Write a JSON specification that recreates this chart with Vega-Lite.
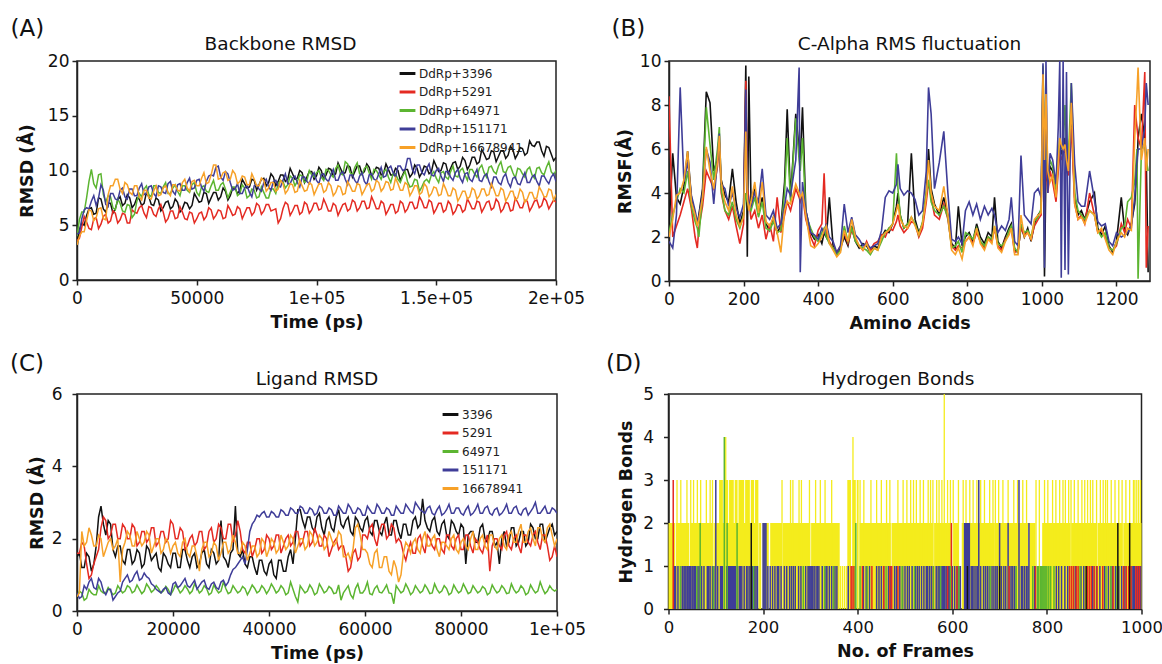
{
"$schema": "https://vega.github.io/schema/vega-lite/v6.json",
"background": "white",
"padding": {"left": 9, "top": 17, "right": 0, "bottom": 0},
"config": {
 "font": "DejaVu Sans",
 "view": {"stroke": "#222222", "strokeWidth": 1.5},
 "axis": {"grid": false, "domainColor": "#222222", "domainWidth": 1.5, "tickColor": "#222222", "tickWidth": 1.5, "tickSize": 5, "labelFontSize": 17, "labelColor": "#111111", "labelPadding": 3, "titleFontSize": 17.5, "titleFontWeight": "bold", "titleColor": "#111111", "labelFlush": false, "labelOverlap": false},
 "axisY": {"titlePadding": 5},
 "axisX": {"titlePadding": 7, "labelPadding": 5},
 "title": {"fontWeight": "normal", "color": "#111111"}
},
"datasets": {
"rmsdA": [
{"t":0,"3396":3.0,"5291":3.6,"64971":4.0,"151171":4.2,"16678941":3.2},
{"t":2000,"3396":5.2,"5291":4.8,"64971":6.2,"151171":5.6,"16678941":4.4},
{"t":4000,"3396":5.9,"5291":5.3,"64971":7.5,"151171":6.6,"16678941":5.4},
{"t":6000,"3396":6.6,"5291":4.6,"64971":10.1,"151171":7.2,"16678941":6.3},
{"t":8000,"3396":6.1,"5291":5.7,"64971":8.4,"151171":6.8,"16678941":5.7},
{"t":10000,"3396":7.4,"5291":5.1,"64971":9.7,"151171":8.7,"16678941":6.6},
{"t":12000,"3396":6.2,"5291":6.0,"64971":7.1,"151171":6.9,"16678941":5.5},
{"t":14000,"3396":7.0,"5291":5.4,"64971":7.6,"151171":7.9,"16678941":8.6},
{"t":16000,"3396":6.5,"5291":6.1,"64971":6.4,"151171":7.4,"16678941":9.2},
{"t":18000,"3396":7.6,"5291":5.5,"64971":7.0,"151171":8.2,"16678941":8.3},
{"t":20000,"3396":7.0,"5291":6.0,"64971":6.2,"151171":7.6,"16678941":8.9},
{"t":22000,"3396":7.5,"5291":5.2,"64971":6.8,"151171":8.3,"16678941":8.0},
{"t":24000,"3396":6.9,"5291":6.2,"64971":6.0,"151171":7.7,"16678941":8.6},
{"t":26000,"3396":7.4,"5291":6.6,"64971":7.9,"151171":8.4,"16678941":7.6},
{"t":28000,"3396":7.0,"5291":6.1,"64971":8.3,"151171":7.8,"16678941":8.2},
{"t":30000,"3396":7.6,"5291":6.7,"64971":7.8,"151171":8.5,"16678941":7.5},
{"t":32000,"3396":6.8,"5291":6.0,"64971":8.6,"151171":7.9,"16678941":8.1},
{"t":34000,"3396":7.3,"5291":6.5,"64971":8.0,"151171":8.6,"16678941":7.7},
{"t":36000,"3396":6.6,"5291":6.2,"64971":8.5,"151171":8.0,"16678941":8.4},
{"t":38000,"3396":7.2,"5291":5.6,"64971":7.9,"151171":8.8,"16678941":8.0},
{"t":40000,"3396":6.7,"5291":6.3,"64971":8.4,"151171":8.1,"16678941":8.7},
{"t":42000,"3396":7.1,"5291":5.7,"64971":8.1,"151171":8.7,"16678941":8.2},
{"t":44000,"3396":6.5,"5291":6.2,"64971":8.6,"151171":8.2,"16678941":8.9},
{"t":46000,"3396":7.0,"5291":5.5,"64971":8.2,"151171":8.9,"16678941":8.4},
{"t":48000,"3396":6.8,"5291":6.1,"64971":8.7,"151171":8.3,"16678941":9.0},
{"t":50000,"3396":7.5,"5291":5.6,"64971":8.0,"151171":9.1,"16678941":8.6},
{"t":52000,"3396":7.2,"5291":6.2,"64971":8.5,"151171":8.5,"16678941":9.3},
{"t":54000,"3396":7.9,"5291":5.8,"64971":8.1,"151171":9.0,"16678941":8.8},
{"t":56000,"3396":7.5,"5291":6.4,"64971":8.6,"151171":9.6,"16678941":9.6},
{"t":58000,"3396":8.0,"5291":5.9,"64971":8.2,"151171":10.3,"16678941":10.5},
{"t":60000,"3396":7.6,"5291":6.3,"64971":8.7,"151171":9.4,"16678941":9.3},
{"t":62000,"3396":8.1,"5291":5.7,"64971":8.3,"151171":9.9,"16678941":9.9},
{"t":64000,"3396":7.7,"5291":6.4,"64971":8.0,"151171":8.9,"16678941":9.2},
{"t":66000,"3396":8.4,"5291":6.0,"64971":8.5,"151171":8.3,"16678941":9.7},
{"t":68000,"3396":8.2,"5291":6.5,"64971":7.9,"151171":7.9,"16678941":9.0},
{"t":70000,"3396":8.8,"5291":6.1,"64971":8.4,"151171":8.4,"16678941":9.4},
{"t":72000,"3396":8.5,"5291":6.6,"64971":7.7,"151171":8.0,"16678941":8.7},
{"t":74000,"3396":9.1,"5291":6.2,"64971":8.2,"151171":8.6,"16678941":9.2},
{"t":76000,"3396":8.7,"5291":6.8,"64971":7.6,"151171":8.3,"16678941":8.6},
{"t":78000,"3396":9.3,"5291":6.3,"64971":8.0,"151171":8.9,"16678941":9.1},
{"t":80000,"3396":8.9,"5291":6.9,"64971":7.5,"151171":8.5,"16678941":8.4},
{"t":82000,"3396":9.4,"5291":6.4,"64971":8.3,"151171":9.0,"16678941":8.9},
{"t":84000,"3396":9.0,"5291":5.2,"64971":8.8,"151171":8.6,"16678941":8.3},
{"t":86000,"3396":9.6,"5291":6.5,"64971":9.0,"151171":9.1,"16678941":8.8},
{"t":88000,"3396":9.2,"5291":6.9,"64971":8.7,"151171":8.8,"16678941":8.2},
{"t":90000,"3396":9.7,"5291":6.3,"64971":9.3,"151171":9.3,"16678941":8.7},
{"t":92000,"3396":9.3,"5291":6.8,"64971":9.0,"151171":8.9,"16678941":8.1},
{"t":94000,"3396":9.8,"5291":6.2,"64971":9.5,"151171":9.4,"16678941":8.6},
{"t":96000,"3396":9.4,"5291":6.9,"64971":9.1,"151171":9.0,"16678941":8.2},
{"t":98000,"3396":9.9,"5291":6.4,"64971":9.6,"151171":9.5,"16678941":8.7},
{"t":100000,"3396":9.5,"5291":7.0,"64971":9.8,"151171":9.1,"16678941":8.3},
{"t":102000,"3396":10.0,"5291":6.5,"64971":9.4,"151171":9.6,"16678941":8.8},
{"t":104000,"3396":9.6,"5291":6.9,"64971":10.1,"151171":9.2,"16678941":8.2},
{"t":106000,"3396":10.1,"5291":6.3,"64971":9.6,"151171":9.6,"16678941":8.6},
{"t":108000,"3396":9.7,"5291":6.8,"64971":10.2,"151171":9.1,"16678941":8.0},
{"t":110000,"3396":10.2,"5291":6.4,"64971":9.7,"151171":9.7,"16678941":8.5},
{"t":112000,"3396":9.8,"5291":7.0,"64971":10.8,"151171":9.2,"16678941":7.9},
{"t":114000,"3396":10.3,"5291":6.5,"64971":9.8,"151171":9.6,"16678941":8.6},
{"t":116000,"3396":9.9,"5291":7.1,"64971":10.3,"151171":9.1,"16678941":8.1},
{"t":118000,"3396":10.4,"5291":6.6,"64971":9.7,"151171":9.5,"16678941":8.7},
{"t":120000,"3396":9.9,"5291":7.2,"64971":10.2,"151171":9.0,"16678941":8.2},
{"t":122000,"3396":10.3,"5291":6.6,"64971":9.8,"151171":9.6,"16678941":8.8},
{"t":124000,"3396":9.8,"5291":7.1,"64971":10.1,"151171":9.2,"16678941":8.3},
{"t":126000,"3396":10.2,"5291":6.5,"64971":9.6,"151171":9.7,"16678941":8.9},
{"t":128000,"3396":9.7,"5291":7.0,"64971":9.9,"151171":9.4,"16678941":8.4},
{"t":130000,"3396":10.1,"5291":6.4,"64971":9.4,"151171":10.2,"16678941":8.9},
{"t":132000,"3396":9.6,"5291":6.9,"64971":9.7,"151171":9.8,"16678941":8.3},
{"t":134000,"3396":10.0,"5291":6.3,"64971":9.2,"151171":10.4,"16678941":8.8},
{"t":136000,"3396":9.6,"5291":7.0,"64971":9.5,"151171":10.0,"16678941":8.2},
{"t":138000,"3396":10.1,"5291":6.5,"64971":9.0,"151171":11.1,"16678941":8.7},
{"t":140000,"3396":9.7,"5291":7.1,"64971":8.6,"151171":10.1,"16678941":8.1},
{"t":142000,"3396":10.2,"5291":6.6,"64971":9.1,"151171":10.5,"16678941":8.6},
{"t":144000,"3396":9.8,"5291":7.2,"64971":8.5,"151171":9.8,"16678941":8.0},
{"t":146000,"3396":10.3,"5291":6.6,"64971":9.2,"151171":10.2,"16678941":8.5},
{"t":148000,"3396":9.9,"5291":7.1,"64971":9.6,"151171":9.6,"16678941":7.9},
{"t":150000,"3396":10.4,"5291":6.5,"64971":9.3,"151171":10.0,"16678941":8.4},
{"t":152000,"3396":10.0,"5291":7.0,"64971":9.8,"151171":9.5,"16678941":7.8},
{"t":154000,"3396":10.6,"5291":6.4,"64971":9.4,"151171":9.9,"16678941":8.3},
{"t":156000,"3396":10.2,"5291":6.9,"64971":9.9,"151171":9.4,"16678941":7.7},
{"t":158000,"3396":10.8,"5291":6.3,"64971":9.5,"151171":9.8,"16678941":8.2},
{"t":160000,"3396":10.4,"5291":6.8,"64971":10.0,"151171":9.3,"16678941":7.6},
{"t":162000,"3396":10.9,"5291":6.4,"64971":9.6,"151171":9.7,"16678941":8.1},
{"t":164000,"3396":10.5,"5291":7.0,"64971":10.1,"151171":9.2,"16678941":7.6},
{"t":166000,"3396":11.2,"5291":6.5,"64971":9.7,"151171":9.6,"16678941":8.2},
{"t":168000,"3396":10.8,"5291":7.1,"64971":10.2,"151171":9.1,"16678941":7.7},
{"t":170000,"3396":11.5,"5291":6.6,"64971":9.8,"151171":9.5,"16678941":8.3},
{"t":172000,"3396":11.1,"5291":7.2,"64971":10.3,"151171":9.0,"16678941":7.8},
{"t":174000,"3396":11.7,"5291":6.6,"64971":9.9,"151171":9.4,"16678941":8.3},
{"t":176000,"3396":11.3,"5291":7.1,"64971":10.4,"151171":8.9,"16678941":7.7},
{"t":178000,"3396":11.8,"5291":6.5,"64971":9.9,"151171":9.4,"16678941":8.2},
{"t":180000,"3396":11.4,"5291":7.0,"64971":10.3,"151171":8.9,"16678941":7.6},
{"t":182000,"3396":11.9,"5291":6.4,"64971":9.8,"151171":9.3,"16678941":8.1},
{"t":184000,"3396":11.5,"5291":7.1,"64971":10.2,"151171":8.8,"16678941":7.5},
{"t":186000,"3396":12.0,"5291":6.6,"64971":9.7,"151171":9.3,"16678941":8.0},
{"t":188000,"3396":11.6,"5291":7.2,"64971":10.1,"151171":8.9,"16678941":7.4},
{"t":190000,"3396":12.3,"5291":6.7,"64971":9.6,"151171":9.4,"16678941":8.0},
{"t":192000,"3396":12.6,"5291":7.3,"64971":10.2,"151171":9.0,"16678941":7.5},
{"t":194000,"3396":11.8,"5291":6.8,"64971":9.8,"151171":9.5,"16678941":8.1},
{"t":196000,"3396":12.2,"5291":7.2,"64971":10.3,"151171":9.1,"16678941":7.6},
{"t":198000,"3396":11.5,"5291":6.9,"64971":9.9,"151171":9.4,"16678941":8.2},
{"t":200000,"3396":11.2,"5291":7.1,"64971":10.0,"151171":9.0,"16678941":7.8},
{"t":1000,"3396":4.6,"5291":3.8,"64971":5.5,"151171":4.3,"16678941":4.0},
{"t":3000,"3396":5.0,"5291":5.8,"64971":6.2,"151171":6.4,"16678941":4.4},
{"t":5000,"3396":6.5,"5291":4.7,"64971":9.0,"151171":6.5,"16678941":6.4},
{"t":7000,"3396":6.0,"5291":5.6,"64971":8.8,"151171":7.7,"16678941":5.4},
{"t":9000,"3396":7.5,"5291":4.7,"64971":9.6,"151171":7.5,"16678941":6.5},
{"t":11000,"3396":6.5,"5291":5.8,"64971":7.8,"151171":8.2,"16678941":5.6},
{"t":13000,"3396":7.0,"5291":5.2,"64971":7.7,"151171":6.7,"16678941":7.8},
{"t":15000,"3396":6.1,"5291":6.3,"64971":6.6,"151171":7.9,"16678941":8.6},
{"t":17000,"3396":7.3,"5291":5.2,"64971":7.4,"151171":7.3,"16678941":9.2},
{"t":19000,"3396":6.8,"5291":6.1,"64971":6.3,"151171":8.4,"16678941":7.9},
{"t":21000,"3396":7.8,"5291":5.2,"64971":6.9,"151171":7.4,"16678941":8.7},
{"t":23000,"3396":6.6,"5291":6.4,"64971":5.7,"151171":8.3,"16678941":7.8},
{"t":25000,"3396":7.5,"5291":6.1,"64971":7.2,"151171":7.7,"16678941":8.6},
{"t":27000,"3396":6.8,"5291":6.8,"64971":7.6,"151171":8.8,"16678941":7.3},
{"t":29000,"3396":8.0,"5291":5.7,"64971":8.6,"151171":7.9,"16678941":8.2},
{"t":31000,"3396":6.9,"5291":6.6,"64971":7.6,"151171":8.6,"16678941":7.4},
{"t":33000,"3396":7.5,"5291":5.8,"64971":8.6,"151171":7.6,"16678941":8.6},
{"t":35000,"3396":6.3,"5291":6.9,"64971":7.9,"151171":8.5,"16678941":7.8},
{"t":37000,"3396":7.1,"5291":5.3,"64971":8.9,"151171":7.9,"16678941":8.6},
{"t":39000,"3396":6.5,"5291":6.3,"64971":7.9,"151171":9.0,"16678941":7.7},
{"t":41000,"3396":7.4,"5291":5.6,"64971":8.7,"151171":7.8,"16678941":8.7},
{"t":43000,"3396":6.2,"5291":6.7,"64971":7.7,"151171":8.8,"16678941":8.1},
{"t":45000,"3396":7.1,"5291":5.6,"64971":8.6,"151171":8.2,"16678941":9.2},
{"t":47000,"3396":6.5,"5291":6.2,"64971":8.0,"151171":9.3,"16678941":8.1},
{"t":49000,"3396":7.9,"5291":5.2,"64971":8.9,"151171":8.4,"16678941":9.1},
{"t":51000,"3396":7.1,"5291":6.1,"64971":7.7,"151171":9.2,"16678941":8.6},
{"t":53000,"3396":8.0,"5291":5.5,"64971":8.6,"151171":8.1,"16678941":9.8},
{"t":55000,"3396":7.0,"5291":6.6,"64971":8.0,"151171":9.5,"16678941":8.9},
{"t":57000,"3396":8.0,"5291":5.6,"64971":9.1,"151171":9.5,"16678941":10.5},
{"t":59000,"3396":7.3,"5291":6.4,"64971":8.2,"151171":10.4,"16678941":9.2},
{"t":61000,"3396":8.4,"5291":5.6,"64971":8.9,"151171":9.1,"16678941":9.8},
{"t":63000,"3396":7.3,"5291":6.8,"64971":7.5,"151171":9.7,"16678941":9.1},
{"t":65000,"3396":8.4,"5291":5.9,"64971":8.5,"151171":8.2,"16678941":10.0},
{"t":67000,"3396":7.9,"5291":6.7,"64971":7.7,"151171":8.8,"16678941":8.8},
{"t":69000,"3396":9.2,"5291":5.6,"64971":8.7,"151171":7.9,"16678941":9.5},
{"t":71000,"3396":8.4,"5291":6.6,"64971":7.5,"151171":8.6,"16678941":8.7},
{"t":73000,"3396":9.2,"5291":5.9,"64971":8.3,"151171":7.6,"16678941":9.7},
{"t":75000,"3396":8.2,"5291":7.0,"64971":7.5,"151171":8.7,"16678941":8.6},
{"t":77000,"3396":9.2,"5291":6.0,"64971":8.5,"151171":8.1,"16678941":9.3},
{"t":79000,"3396":8.6,"5291":6.9,"64971":7.5,"151171":9.2,"16678941":8.1},
{"t":81000,"3396":9.7,"5291":6.3,"64971":8.3,"151171":8.2,"16678941":8.9},
{"t":83000,"3396":8.6,"5291":6.5,"64971":7.9,"151171":9.1,"16678941":8.1},
{"t":85000,"3396":9.6,"5291":5.6,"64971":9.1,"151171":8.5,"16678941":9.1},
{"t":87000,"3396":9.0,"5291":7.1,"64971":8.4,"151171":9.7,"16678941":7.9},
{"t":89000,"3396":10.2,"5291":5.9,"64971":9.5,"151171":8.8,"16678941":8.8},
{"t":91000,"3396":9.2,"5291":6.8,"64971":8.6,"151171":9.5,"16678941":8.0},
{"t":93000,"3396":10.0,"5291":6.0,"64971":9.6,"151171":8.5,"16678941":9.1},
{"t":95000,"3396":8.9,"5291":7.1,"64971":8.9,"151171":9.4,"16678941":8.1},
{"t":97000,"3396":9.9,"5291":6.1,"64971":10.0,"151171":8.8,"16678941":8.9},
{"t":99000,"3396":9.2,"5291":7.0,"64971":9.4,"151171":9.8,"16678941":7.8},
{"t":101000,"3396":10.3,"5291":6.4,"64971":10.0,"151171":8.8,"16678941":8.8},
{"t":103000,"3396":9.2,"5291":7.4,"64971":9.1,"151171":9.7,"16678941":8.0},
{"t":105000,"3396":10.2,"5291":6.3,"64971":10.0,"151171":9.0,"16678941":8.9},
{"t":107000,"3396":9.5,"5291":7.0,"64971":9.4,"151171":10.1,"16678941":7.7},
{"t":109000,"3396":10.7,"5291":5.9,"64971":10.5,"151171":9.1,"16678941":8.6},
{"t":111000,"3396":9.7,"5291":6.9,"64971":9.6,"151171":9.9,"16678941":7.8},
{"t":113000,"3396":10.5,"5291":6.3,"64971":10.6,"151171":8.7,"16678941":9.0},
{"t":115000,"3396":9.4,"5291":7.3,"64971":9.6,"151171":9.6,"16678941":8.1},
{"t":117000,"3396":10.4,"5291":6.3,"64971":10.7,"151171":8.8,"16678941":8.8},
{"t":119000,"3396":9.7,"5291":7.2,"64971":9.6,"151171":9.8,"16678941":7.8},
{"t":121000,"3396":10.6,"5291":6.5,"64971":10.4,"151171":8.7,"16678941":8.7},
{"t":123000,"3396":9.5,"5291":7.6,"64971":9.2,"151171":9.7,"16678941":8.1},
{"t":125000,"3396":10.3,"5291":6.5,"64971":10.0,"151171":9.1,"16678941":9.1},
{"t":127000,"3396":9.6,"5291":7.2,"64971":9.2,"151171":10.3,"16678941":8.1},
{"t":129000,"3396":10.6,"5291":6.0,"64971":10.1,"151171":9.5,"16678941":9.0},
{"t":131000,"3396":9.6,"5291":6.9,"64971":8.9,"151171":10.4,"16678941":8.2},
{"t":133000,"3396":10.2,"5291":6.1,"64971":9.7,"151171":9.4,"16678941":9.3},
{"t":135000,"3396":9.1,"5291":7.2,"64971":8.9,"151171":10.4,"16678941":8.2},
{"t":137000,"3396":10.1,"5291":6.2,"64971":9.9,"151171":10.1,"16678941":8.9},
{"t":139000,"3396":9.4,"5291":7.1,"64971":8.5,"151171":11.1,"16678941":7.7},
{"t":141000,"3396":10.5,"5291":6.5,"64971":9.2,"151171":9.7,"16678941":8.6},
{"t":143000,"3396":9.4,"5291":7.6,"64971":8.1,"151171":10.5,"16678941":7.8},
{"t":145000,"3396":10.4,"5291":6.6,"64971":9.0,"151171":9.6,"16678941":8.8},
{"t":147000,"3396":9.7,"5291":7.3,"64971":8.9,"151171":10.6,"16678941":7.6},
{"t":149000,"3396":10.9,"5291":6.1,"64971":9.9,"151171":9.5,"16678941":8.5},
{"t":151000,"3396":9.9,"5291":7.0,"64971":8.9,"151171":10.2,"16678941":7.7},
{"t":153000,"3396":10.7,"5291":6.2,"64971":9.9,"151171":9.0,"16678941":8.8},
{"t":155000,"3396":9.7,"5291":7.2,"64971":9.2,"151171":9.9,"16678941":7.7},
{"t":157000,"3396":10.7,"5291":6.0,"64971":10.4,"151171":9.1,"16678941":8.4},
{"t":159000,"3396":10.1,"5291":6.9,"64971":9.4,"151171":10.1,"16678941":7.2},
{"t":161000,"3396":11.2,"5291":6.2,"64971":10.2,"151171":8.9,"16678941":8.1},
{"t":163000,"3396":10.1,"5291":7.4,"64971":9.1,"151171":9.8,"16678941":7.4},
{"t":165000,"3396":11.2,"5291":6.5,"64971":10.1,"151171":9.0,"16678941":8.4},
{"t":167000,"3396":10.6,"5291":7.2,"64971":9.4,"151171":10.1,"16678941":7.4},
{"t":169000,"3396":11.9,"5291":6.2,"64971":10.5,"151171":9.0,"16678941":8.3},
{"t":171000,"3396":11.0,"5291":7.1,"64971":9.4,"151171":9.7,"16678941":7.7},
{"t":173000,"3396":11.8,"5291":6.4,"64971":10.4,"151171":8.5,"16678941":8.8},
{"t":175000,"3396":10.8,"5291":7.4,"64971":9.7,"151171":9.4,"16678941":7.7},
{"t":177000,"3396":11.8,"5291":6.2,"64971":10.8,"151171":8.7,"16678941":8.4},
{"t":179000,"3396":11.1,"5291":7.1,"64971":9.8,"151171":9.7,"16678941":7.2},
{"t":181000,"3396":12.2,"5291":6.3,"64971":10.4,"151171":8.5,"16678941":8.1},
{"t":183000,"3396":11.1,"5291":7.5,"64971":9.3,"151171":9.4,"16678941":7.3},
{"t":185000,"3396":12.1,"5291":6.6,"64971":10.1,"151171":8.7,"16678941":8.3},
{"t":187000,"3396":11.4,"5291":7.3,"64971":9.4,"151171":9.8,"16678941":7.1},
{"t":189000,"3396":12.7,"5291":6.3,"64971":10.3,"151171":8.9,"16678941":8.0},
{"t":191000,"3396":12.2,"5291":7.2,"64971":9.3,"151171":9.6,"16678941":7.4},
{"t":193000,"3396":12.6,"5291":6.6,"64971":10.3,"151171":8.6,"16678941":8.5},
{"t":195000,"3396":11.3,"5291":7.5,"64971":9.6,"151171":9.5,"16678941":7.6},
{"t":197000,"3396":12.1,"5291":6.5,"64971":10.8,"151171":8.8,"16678941":8.3},
{"t":199000,"3396":10.9,"5291":7.3,"64971":9.6,"151171":9.7,"16678941":7.3}
],
"rmsf": [
{"r":0,"3396":2.4,"5291":8.4,"64971":2.2,"151171":1.8,"16678941":2.0},
{"r":10,"3396":5.8,"5291":2.0,"64971":3.0,"151171":1.5,"16678941":2.8},
{"r":20,"3396":3.8,"5291":2.5,"64971":3.6,"151171":3.0,"16678941":3.9},
{"r":30,"3396":3.5,"5291":3.0,"64971":4.2,"151171":8.8,"16678941":4.0},
{"r":40,"3396":4.3,"5291":3.6,"64971":4.0,"151171":4.5,"16678941":4.6},
{"r":50,"3396":5.9,"5291":4.2,"64971":5.0,"151171":5.4,"16678941":5.9},
{"r":60,"3396":3.8,"5291":3.3,"64971":3.4,"151171":3.9,"16678941":3.6},
{"r":70,"3396":3.0,"5291":2.0,"64971":2.7,"151171":3.2,"16678941":3.0},
{"r":76,"3396":2.6,"5291":1.5,"64971":2.4,"151171":2.7,"16678941":2.5},
{"r":80,"3396":3.0,"5291":2.4,"64971":2.0,"151171":2.9,"16678941":2.8},
{"r":90,"3396":4.2,"5291":3.4,"64971":3.9,"151171":4.0,"16678941":3.8},
{"r":100,"3396":8.6,"5291":5.0,"64971":7.9,"151171":6.0,"16678941":6.1},
{"r":110,"3396":8.1,"5291":4.6,"64971":6.2,"151171":5.4,"16678941":5.0},
{"r":120,"3396":5.0,"5291":4.2,"64971":4.6,"151171":3.5,"16678941":4.2},
{"r":130,"3396":5.5,"5291":5.2,"64971":6.0,"151171":5.5,"16678941":5.4},
{"r":135,"3396":6.0,"5291":6.3,"64971":7.0,"151171":6.7,"16678941":6.6},
{"r":140,"3396":4.6,"5291":4.0,"64971":4.2,"151171":4.4,"16678941":4.5},
{"r":150,"3396":3.9,"5291":3.2,"64971":3.2,"151171":4.2,"16678941":3.6},
{"r":160,"3396":3.6,"5291":2.8,"64971":3.0,"151171":3.4,"16678941":3.2},
{"r":170,"3396":5.1,"5291":3.4,"64971":3.6,"151171":4.0,"16678941":4.3},
{"r":180,"3396":3.6,"5291":2.5,"64971":2.8,"151171":3.3,"16678941":3.0},
{"r":190,"3396":2.6,"5291":1.7,"64971":2.4,"151171":2.9,"16678941":2.5},
{"r":200,"3396":3.2,"5291":2.6,"64971":3.0,"151171":3.5,"16678941":2.9},
{"r":206,"3396":9.8,"5291":9.1,"64971":4.0,"151171":8.7,"16678941":6.8},
{"r":210,"3396":1.1,"5291":4.2,"64971":3.6,"151171":4.0,"16678941":3.8},
{"r":214,"3396":9.3,"5291":3.8,"64971":3.4,"151171":3.6,"16678941":3.2},
{"r":220,"3396":3.6,"5291":2.8,"64971":3.2,"151171":3.4,"16678941":3.6},
{"r":230,"3396":4.2,"5291":3.2,"64971":3.8,"151171":4.0,"16678941":4.5},
{"r":240,"3396":3.0,"5291":2.4,"64971":2.9,"151171":3.6,"16678941":3.1},
{"r":250,"3396":3.8,"5291":3.0,"64971":3.6,"151171":5.1,"16678941":4.5},
{"r":260,"3396":2.6,"5291":1.9,"64971":2.4,"151171":3.0,"16678941":2.7},
{"r":270,"3396":2.3,"5291":2.6,"64971":2.3,"151171":2.8,"16678941":2.5},
{"r":280,"3396":2.9,"5291":1.8,"64971":2.7,"151171":3.2,"16678941":2.9},
{"r":290,"3396":2.2,"5291":3.8,"64971":2.2,"151171":2.4,"16678941":2.2},
{"r":300,"3396":2.5,"5291":2.2,"64971":2.3,"151171":2.6,"16678941":1.3},
{"r":310,"3396":4.5,"5291":3.0,"64971":4.0,"151171":3.4,"16678941":3.2},
{"r":317,"3396":7.8,"5291":3.6,"64971":6.5,"151171":4.2,"16678941":3.6},
{"r":326,"3396":3.8,"5291":3.2,"64971":3.6,"151171":3.9,"16678941":3.5},
{"r":340,"3396":7.6,"5291":4.2,"64971":7.4,"151171":5.5,"16678941":4.4},
{"r":349,"3396":6.0,"5291":3.8,"64971":5.5,"151171":9.7,"16678941":4.0},
{"r":352,"3396":5.5,"5291":3.6,"64971":5.0,"151171":0.4,"16678941":3.8},
{"r":358,"3396":7.9,"5291":3.9,"64971":6.5,"151171":4.5,"16678941":4.0},
{"r":367,"3396":3.2,"5291":2.8,"64971":3.0,"151171":3.2,"16678941":3.0},
{"r":380,"3396":2.2,"5291":2.0,"64971":2.4,"151171":2.2,"16678941":1.6},
{"r":390,"3396":1.9,"5291":1.6,"64971":2.0,"151171":2.1,"16678941":1.5},
{"r":400,"3396":2.1,"5291":2.3,"64971":1.8,"151171":1.9,"16678941":1.7},
{"r":410,"3396":1.7,"5291":2.6,"64971":2.2,"151171":2.4,"16678941":2.0},
{"r":416,"3396":2.2,"5291":4.9,"64971":2.4,"151171":2.2,"16678941":2.3},
{"r":422,"3396":2.0,"5291":2.2,"64971":2.0,"151171":2.6,"16678941":2.5},
{"r":430,"3396":3.8,"5291":1.8,"64971":1.7,"151171":2.0,"16678941":1.7},
{"r":440,"3396":1.6,"5291":1.5,"64971":1.5,"151171":1.8,"16678941":1.4},
{"r":450,"3396":1.2,"5291":1.3,"64971":1.2,"151171":1.3,"16678941":1.1},
{"r":460,"3396":1.5,"5291":1.6,"64971":1.4,"151171":1.6,"16678941":1.3},
{"r":470,"3396":2.0,"5291":2.2,"64971":2.5,"151171":3.5,"16678941":2.3},
{"r":480,"3396":1.6,"5291":1.7,"64971":1.8,"151171":2.2,"16678941":1.8},
{"r":490,"3396":2.5,"5291":2.3,"64971":2.4,"151171":2.9,"16678941":2.8},
{"r":500,"3396":1.8,"5291":1.9,"64971":1.8,"151171":2.1,"16678941":2.0},
{"r":510,"3396":1.5,"5291":1.6,"64971":1.6,"151171":1.9,"16678941":1.6},
{"r":520,"3396":1.7,"5291":1.4,"64971":1.5,"151171":1.6,"16678941":1.4},
{"r":530,"3396":1.6,"5291":1.8,"64971":1.4,"151171":1.7,"16678941":1.7},
{"r":540,"3396":1.3,"5291":1.4,"64971":1.2,"151171":1.5,"16678941":1.3},
{"r":550,"3396":1.6,"5291":1.7,"64971":1.5,"151171":1.6,"16678941":1.5},
{"r":560,"3396":1.5,"5291":1.8,"64971":1.4,"151171":1.7,"16678941":1.4},
{"r":570,"3396":2.0,"5291":2.1,"64971":1.8,"151171":2.3,"16678941":2.0},
{"r":580,"3396":2.3,"5291":2.0,"64971":2.2,"151171":3.8,"16678941":2.2},
{"r":590,"3396":2.2,"5291":2.4,"64971":2.4,"151171":4.1,"16678941":2.3},
{"r":600,"3396":2.6,"5291":2.3,"64971":2.6,"151171":4.0,"16678941":2.6},
{"r":610,"3396":3.4,"5291":2.7,"64971":5.8,"151171":4.4,"16678941":3.2},
{"r":614,"3396":4.0,"5291":3.0,"64971":4.2,"151171":5.3,"16678941":3.5},
{"r":620,"3396":3.0,"5291":2.5,"64971":3.0,"151171":4.2,"16678941":2.8},
{"r":630,"3396":2.4,"5291":2.2,"64971":2.4,"151171":3.9,"16678941":2.5},
{"r":640,"3396":2.6,"5291":2.4,"64971":2.6,"151171":4.1,"16678941":2.4},
{"r":650,"3396":5.8,"5291":2.7,"64971":2.9,"151171":4.0,"16678941":2.9},
{"r":660,"3396":2.8,"5291":2.6,"64971":2.6,"151171":3.7,"16678941":2.5},
{"r":670,"3396":2.2,"5291":2.0,"64971":2.1,"151171":3.0,"16678941":2.1},
{"r":680,"3396":2.6,"5291":2.4,"64971":2.7,"151171":3.2,"16678941":2.6},
{"r":690,"3396":4.0,"5291":3.6,"64971":4.0,"151171":5.0,"16678941":3.8},
{"r":696,"3396":6.0,"5291":4.5,"64971":4.6,"151171":8.8,"16678941":5.5},
{"r":703,"3396":4.2,"5291":3.8,"64971":3.6,"151171":7.6,"16678941":4.0},
{"r":712,"3396":3.5,"5291":3.0,"64971":3.2,"151171":4.2,"16678941":3.4},
{"r":725,"3396":3.0,"5291":2.8,"64971":3.0,"151171":5.4,"16678941":3.2},
{"r":737,"3396":3.8,"5291":3.5,"64971":3.4,"151171":6.8,"16678941":4.3},
{"r":748,"3396":3.0,"5291":2.8,"64971":2.9,"151171":4.0,"16678941":3.0},
{"r":758,"3396":1.7,"5291":1.6,"64971":1.5,"151171":1.9,"16678941":1.4},
{"r":768,"3396":1.5,"5291":1.4,"64971":1.6,"151171":1.8,"16678941":1.2},
{"r":776,"3396":3.4,"5291":1.6,"64971":1.8,"151171":2.0,"16678941":1.5},
{"r":786,"3396":1.6,"5291":1.5,"64971":1.3,"151171":1.7,"16678941":1.0},
{"r":795,"3396":2.0,"5291":1.8,"64971":2.2,"151171":3.2,"16678941":1.8},
{"r":805,"3396":2.2,"5291":2.0,"64971":2.1,"151171":3.6,"16678941":2.0},
{"r":815,"3396":1.8,"5291":1.7,"64971":1.9,"151171":3.0,"16678941":1.6},
{"r":825,"3396":2.6,"5291":2.2,"64971":2.4,"151171":3.5,"16678941":2.4},
{"r":835,"3396":2.0,"5291":1.8,"64971":1.8,"151171":2.8,"16678941":1.7},
{"r":846,"3396":1.7,"5291":1.5,"64971":1.6,"151171":3.4,"16678941":1.4},
{"r":856,"3396":2.2,"5291":2.0,"64971":2.0,"151171":3.0,"16678941":1.9},
{"r":866,"3396":2.0,"5291":1.8,"64971":1.9,"151171":3.3,"16678941":1.7},
{"r":873,"3396":3.8,"5291":2.4,"64971":2.5,"151171":3.0,"16678941":2.5},
{"r":882,"3396":1.8,"5291":1.6,"64971":1.7,"151171":2.2,"16678941":1.5},
{"r":892,"3396":1.5,"5291":1.4,"64971":1.6,"151171":2.5,"16678941":1.3},
{"r":902,"3396":2.0,"5291":1.9,"64971":1.8,"151171":2.3,"16678941":1.8},
{"r":912,"3396":2.4,"5291":2.2,"64971":2.3,"151171":2.8,"16678941":2.1},
{"r":918,"3396":2.6,"5291":2.4,"64971":2.5,"151171":3.8,"16678941":2.4},
{"r":927,"3396":1.4,"5291":1.3,"64971":1.5,"151171":1.8,"16678941":1.2},
{"r":936,"3396":1.3,"5291":1.4,"64971":1.3,"151171":1.6,"16678941":1.2},
{"r":944,"3396":2.5,"5291":2.4,"64971":2.6,"151171":5.7,"16678941":3.0},
{"r":953,"3396":2.0,"5291":2.1,"64971":2.2,"151171":3.0,"16678941":2.0},
{"r":962,"3396":2.4,"5291":2.2,"64971":2.3,"151171":2.8,"16678941":2.2},
{"r":971,"3396":1.8,"5291":1.9,"64971":2.0,"151171":2.6,"16678941":1.9},
{"r":980,"3396":2.6,"5291":2.5,"64971":2.7,"151171":4.0,"16678941":2.8},
{"r":990,"3396":3.0,"5291":2.8,"64971":2.9,"151171":4.2,"16678941":3.0},
{"r":998,"3396":3.2,"5291":3.0,"64971":3.3,"151171":3.8,"16678941":3.1},
{"r":1003,"3396":9.0,"5291":9.7,"64971":9.8,"151171":9.9,"16678941":9.4},
{"r":1007,"3396":0.2,"5291":5.0,"64971":6.0,"151171":0.6,"16678941":5.5},
{"r":1011,"3396":5.0,"5291":5.5,"64971":7.0,"151171":10.0,"16678941":8.5},
{"r":1016,"3396":4.5,"5291":4.0,"64971":4.5,"151171":4.0,"16678941":5.0},
{"r":1022,"3396":5.2,"5291":5.0,"64971":5.5,"151171":5.8,"16678941":4.5},
{"r":1029,"3396":5.0,"5291":4.5,"64971":5.2,"151171":5.5,"16678941":4.8},
{"r":1038,"3396":4.0,"5291":3.6,"64971":4.2,"151171":4.4,"16678941":3.8},
{"r":1044,"3396":5.5,"5291":5.0,"64971":5.8,"151171":7.0,"16678941":5.4},
{"r":1048,"3396":6.2,"5291":5.8,"64971":6.5,"151171":10.0,"16678941":6.5},
{"r":1052,"3396":5.8,"5291":5.5,"64971":6.0,"151171":0.15,"16678941":6.2},
{"r":1057,"3396":6.0,"5291":5.8,"64971":6.3,"151171":10.0,"16678941":6.0},
{"r":1062,"3396":6.5,"5291":6.0,"64971":8.0,"151171":0.5,"16678941":6.2},
{"r":1066,"3396":5.5,"5291":5.0,"64971":6.0,"151171":9.5,"16678941":5.5},
{"r":1071,"3396":5.5,"5291":4.8,"64971":5.5,"151171":0.3,"16678941":5.0},
{"r":1079,"3396":7.5,"5291":7.0,"64971":9.0,"151171":9.0,"16678941":8.1},
{"r":1088,"3396":3.8,"5291":3.5,"64971":4.0,"151171":5.3,"16678941":3.5},
{"r":1097,"3396":3.0,"5291":2.8,"64971":3.2,"151171":3.6,"16678941":2.8},
{"r":1106,"3396":3.2,"5291":3.0,"64971":3.0,"151171":3.4,"16678941":2.9},
{"r":1115,"3396":2.8,"5291":2.6,"64971":2.8,"151171":3.4,"16678941":2.6},
{"r":1128,"3396":3.6,"5291":4.0,"64971":3.2,"151171":5.0,"16678941":3.2},
{"r":1141,"3396":4.0,"5291":3.0,"64971":3.0,"151171":3.7,"16678941":3.0},
{"r":1150,"3396":2.4,"5291":2.2,"64971":2.3,"151171":2.7,"16678941":2.2},
{"r":1160,"3396":2.1,"5291":2.3,"64971":2.0,"151171":2.5,"16678941":2.4},
{"r":1170,"3396":2.5,"5291":2.0,"64971":2.2,"151171":2.6,"16678941":1.9},
{"r":1180,"3396":1.6,"5291":1.5,"64971":1.5,"151171":1.8,"16678941":1.4},
{"r":1190,"3396":1.3,"5291":1.4,"64971":1.4,"151171":1.6,"16678941":1.2},
{"r":1200,"3396":1.8,"5291":1.6,"64971":1.7,"151171":2.2,"16678941":1.8},
{"r":1213,"3396":3.8,"5291":2.6,"64971":2.4,"151171":2.0,"16678941":2.2},
{"r":1222,"3396":2.3,"5291":2.2,"64971":2.5,"151171":2.1,"16678941":2.0},
{"r":1230,"3396":2.1,"5291":2.8,"64971":3.6,"151171":2.2,"16678941":2.4},
{"r":1240,"3396":2.6,"5291":2.4,"64971":3.8,"151171":2.5,"16678941":2.3},
{"r":1249,"3396":3.5,"5291":8.0,"64971":4.5,"151171":3.8,"16678941":6.5},
{"r":1255,"3396":5.0,"5291":7.0,"64971":6.0,"151171":5.5,"16678941":8.5},
{"r":1258,"3396":6.5,"5291":6.5,"64971":0.1,"151171":6.0,"16678941":9.7},
{"r":1267,"3396":7.6,"5291":6.0,"64971":6.0,"151171":6.0,"16678941":5.5},
{"r":1276,"3396":6.5,"5291":9.5,"64971":6.2,"151171":7.0,"16678941":6.5},
{"r":1280,"3396":5.5,"5291":0.6,"64971":5.5,"151171":9.0,"16678941":5.0},
{"r":1285,"3396":0.4,"5291":2.5,"64971":5.0,"151171":8.0,"16678941":6.0}
],
"rmsdC": [
{"t":0,"3396":1.5,"5291":1.6,"64971":0.4,"151171":0.5,"16678941":0.4},
{"t":1000,"3396":1.2,"5291":1.9,"64971":0.5,"151171":0.4,"16678941":2.2},
{"t":2000,"3396":1.6,"5291":1.3,"64971":0.35,"151171":0.6,"16678941":1.9},
{"t":3000,"3396":1.1,"5291":1.0,"64971":0.5,"151171":0.9,"16678941":2.1},
{"t":4000,"3396":1.8,"5291":1.5,"64971":0.45,"151171":0.6,"16678941":1.8},
{"t":5000,"3396":2.9,"5291":2.3,"64971":0.55,"151171":0.8,"16678941":2.0},
{"t":6000,"3396":2.1,"5291":2.5,"64971":0.5,"151171":0.45,"16678941":1.7},
{"t":7000,"3396":2.4,"5291":2.1,"64971":0.55,"151171":0.6,"16678941":2.0},
{"t":8000,"3396":1.5,"5291":2.4,"64971":0.5,"151171":0.4,"16678941":1.8},
{"t":9000,"3396":1.8,"5291":2.0,"64971":0.6,"151171":0.55,"16678941":0.8},
{"t":10000,"3396":1.3,"5291":2.3,"64971":0.55,"151171":0.9,"16678941":1.9},
{"t":11000,"3396":1.7,"5291":2.0,"64971":0.65,"151171":0.8,"16678941":2.1},
{"t":12000,"3396":1.4,"5291":2.3,"64971":0.55,"151171":1.0,"16678941":1.8},
{"t":13000,"3396":1.6,"5291":1.9,"64971":0.6,"151171":0.85,"16678941":2.0},
{"t":14000,"3396":1.3,"5291":2.2,"64971":0.55,"151171":1.05,"16678941":1.9},
{"t":15000,"3396":1.7,"5291":2.0,"64971":0.65,"151171":0.9,"16678941":2.1},
{"t":16000,"3396":1.5,"5291":2.3,"64971":0.58,"151171":0.7,"16678941":1.8},
{"t":17000,"3396":1.2,"5291":1.9,"64971":0.62,"151171":0.55,"16678941":2.0},
{"t":18000,"3396":1.6,"5291":2.2,"64971":0.55,"151171":0.6,"16678941":1.7},
{"t":19000,"3396":1.3,"5291":2.0,"64971":0.6,"151171":0.5,"16678941":1.9},
{"t":20000,"3396":1.6,"5291":2.4,"64971":0.56,"151171":0.75,"16678941":1.8},
{"t":21000,"3396":1.2,"5291":2.0,"64971":0.63,"151171":0.65,"16678941":1.6},
{"t":22000,"3396":1.7,"5291":2.2,"64971":0.57,"151171":0.8,"16678941":1.9},
{"t":23000,"3396":1.4,"5291":1.8,"64971":0.61,"151171":0.7,"16678941":1.6},
{"t":24000,"3396":1.5,"5291":2.1,"64971":0.55,"151171":0.75,"16678941":1.8},
{"t":25000,"3396":1.2,"5291":1.9,"64971":0.64,"151171":0.6,"16678941":1.5},
{"t":26000,"3396":1.6,"5291":2.2,"64971":0.56,"151171":0.8,"16678941":1.7},
{"t":27000,"3396":1.3,"5291":1.8,"64971":0.62,"151171":0.65,"16678941":1.9},
{"t":28000,"3396":1.7,"5291":2.3,"64971":0.5,"151171":0.75,"16678941":1.6},
{"t":29000,"3396":1.3,"5291":2.0,"64971":0.6,"151171":0.65,"16678941":1.8},
{"t":30000,"3396":2.5,"5291":2.3,"64971":0.55,"151171":0.8,"16678941":1.6},
{"t":31000,"3396":1.4,"5291":2.0,"64971":0.62,"151171":0.7,"16678941":1.9},
{"t":32000,"3396":1.6,"5291":2.4,"64971":0.52,"151171":1.0,"16678941":1.7},
{"t":33000,"3396":2.9,"5291":2.1,"64971":0.6,"151171":1.2,"16678941":1.9},
{"t":34000,"3396":1.5,"5291":2.2,"64971":0.55,"151171":1.4,"16678941":1.6},
{"t":35000,"3396":1.3,"5291":1.6,"64971":0.62,"151171":1.3,"16678941":1.8},
{"t":36000,"3396":1.5,"5291":1.9,"64971":0.57,"151171":2.2,"16678941":1.6},
{"t":37000,"3396":1.2,"5291":1.7,"64971":0.63,"151171":2.5,"16678941":1.8},
{"t":38000,"3396":1.4,"5291":2.0,"64971":0.55,"151171":2.6,"16678941":1.6},
{"t":39000,"3396":1.1,"5291":1.7,"64971":0.62,"151171":2.75,"16678941":1.9},
{"t":40000,"3396":1.3,"5291":2.0,"64971":0.58,"151171":2.6,"16678941":1.7},
{"t":41000,"3396":1.0,"5291":1.8,"64971":0.64,"151171":2.7,"16678941":1.9},
{"t":42000,"3396":1.4,"5291":2.1,"64971":0.56,"151171":2.6,"16678941":1.7},
{"t":43000,"3396":1.1,"5291":1.8,"64971":0.62,"151171":2.75,"16678941":1.9},
{"t":44000,"3396":1.5,"5291":2.1,"64971":0.5,"151171":2.65,"16678941":1.8},
{"t":45000,"3396":1.3,"5291":1.9,"64971":0.6,"151171":2.8,"16678941":2.0},
{"t":46000,"3396":2.8,"5291":2.2,"64971":0.25,"151171":2.7,"16678941":1.8},
{"t":47000,"3396":2.5,"5291":1.9,"64971":0.6,"151171":2.85,"16678941":2.0},
{"t":48000,"3396":2.6,"5291":2.2,"64971":0.55,"151171":2.7,"16678941":1.8},
{"t":49000,"3396":2.3,"5291":1.9,"64971":0.62,"151171":2.8,"16678941":2.1},
{"t":50000,"3396":2.6,"5291":2.1,"64971":0.5,"151171":2.7,"16678941":1.9},
{"t":51000,"3396":2.3,"5291":1.8,"64971":0.63,"151171":2.85,"16678941":2.0},
{"t":52000,"3396":2.5,"5291":2.0,"64971":0.55,"151171":2.7,"16678941":1.8},
{"t":53000,"3396":2.3,"5291":1.7,"64971":0.62,"151171":2.8,"16678941":2.0},
{"t":54000,"3396":2.6,"5291":2.0,"64971":0.5,"151171":2.65,"16678941":1.9},
{"t":55000,"3396":2.4,"5291":1.8,"64971":0.3,"151171":2.8,"16678941":2.1},
{"t":56000,"3396":2.5,"5291":1.5,"64971":0.6,"151171":2.7,"16678941":1.5},
{"t":57000,"3396":2.2,"5291":1.2,"64971":0.45,"151171":2.85,"16678941":1.4},
{"t":58000,"3396":2.6,"5291":1.7,"64971":0.62,"151171":2.7,"16678941":2.3},
{"t":59000,"3396":2.3,"5291":1.5,"64971":0.5,"151171":2.8,"16678941":2.1},
{"t":60000,"3396":2.5,"5291":2.1,"64971":0.6,"151171":2.65,"16678941":1.7},
{"t":61000,"3396":2.2,"5291":2.3,"64971":0.48,"151171":2.8,"16678941":1.3},
{"t":62000,"3396":2.5,"5291":2.0,"64971":0.62,"151171":2.7,"16678941":1.6},
{"t":63000,"3396":2.2,"5291":2.2,"64971":0.52,"151171":2.85,"16678941":1.2},
{"t":64000,"3396":2.4,"5291":2.4,"64971":0.6,"151171":2.7,"16678941":1.5},
{"t":65000,"3396":2.1,"5291":2.1,"64971":0.5,"151171":2.8,"16678941":1.1},
{"t":66000,"3396":2.5,"5291":2.3,"64971":0.2,"151171":2.65,"16678941":1.4},
{"t":67000,"3396":2.2,"5291":2.0,"64971":0.6,"151171":2.8,"16678941":0.8},
{"t":68000,"3396":2.4,"5291":1.6,"64971":0.55,"151171":2.7,"16678941":1.6},
{"t":69000,"3396":2.1,"5291":1.7,"64971":0.62,"151171":2.85,"16678941":1.8},
{"t":70000,"3396":2.5,"5291":1.6,"64971":0.52,"151171":2.7,"16678941":1.9},
{"t":71000,"3396":2.3,"5291":2.0,"64971":0.6,"151171":2.9,"16678941":1.7},
{"t":72000,"3396":3.1,"5291":1.8,"64971":0.55,"151171":2.75,"16678941":2.0},
{"t":73000,"3396":2.3,"5291":2.1,"64971":0.62,"151171":2.85,"16678941":1.8},
{"t":74000,"3396":2.5,"5291":1.8,"64971":0.5,"151171":2.7,"16678941":2.0},
{"t":75000,"3396":2.2,"5291":2.0,"64971":0.6,"151171":2.8,"16678941":1.7},
{"t":76000,"3396":2.4,"5291":1.7,"64971":0.55,"151171":2.65,"16678941":1.9},
{"t":77000,"3396":2.1,"5291":2.1,"64971":0.62,"151171":2.8,"16678941":1.8},
{"t":78000,"3396":2.5,"5291":1.8,"64971":0.5,"151171":2.7,"16678941":2.0},
{"t":79000,"3396":2.2,"5291":2.0,"64971":0.6,"151171":2.85,"16678941":1.7},
{"t":80000,"3396":2.4,"5291":1.7,"64971":0.55,"151171":2.7,"16678941":1.9},
{"t":81000,"3396":1.3,"5291":2.1,"64971":0.62,"151171":2.8,"16678941":1.8},
{"t":82000,"3396":2.2,"5291":1.8,"64971":0.52,"151171":2.65,"16678941":2.0},
{"t":83000,"3396":1.9,"5291":2.0,"64971":0.6,"151171":2.8,"16678941":1.7},
{"t":84000,"3396":2.3,"5291":1.7,"64971":0.55,"151171":2.7,"16678941":2.0},
{"t":85000,"3396":2.0,"5291":1.9,"64971":0.62,"151171":2.85,"16678941":1.8},
{"t":86000,"3396":2.2,"5291":1.1,"64971":0.5,"151171":2.7,"16678941":2.1},
{"t":87000,"3396":1.8,"5291":2.0,"64971":0.6,"151171":2.8,"16678941":1.8},
{"t":88000,"3396":1.3,"5291":1.8,"64971":0.55,"151171":2.65,"16678941":2.0},
{"t":89000,"3396":2.2,"5291":2.1,"64971":0.62,"151171":2.8,"16678941":1.8},
{"t":90000,"3396":1.9,"5291":1.8,"64971":0.5,"151171":2.7,"16678941":2.1},
{"t":91000,"3396":2.3,"5291":2.0,"64971":0.6,"151171":2.85,"16678941":1.9},
{"t":92000,"3396":1.9,"5291":1.8,"64971":0.55,"151171":2.7,"16678941":2.2},
{"t":93000,"3396":2.2,"5291":2.1,"64971":0.62,"151171":2.8,"16678941":1.9},
{"t":94000,"3396":1.9,"5291":1.9,"64971":0.5,"151171":2.65,"16678941":2.2},
{"t":95000,"3396":2.3,"5291":2.1,"64971":0.6,"151171":2.85,"16678941":2.0},
{"t":96000,"3396":2.0,"5291":1.9,"64971":0.55,"151171":2.7,"16678941":2.3},
{"t":97000,"3396":2.4,"5291":2.1,"64971":0.62,"151171":2.8,"16678941":2.0},
{"t":98000,"3396":2.1,"5291":1.8,"64971":0.55,"151171":2.7,"16678941":2.3},
{"t":99000,"3396":2.4,"5291":1.5,"64971":0.6,"151171":2.85,"16678941":2.1},
{"t":100000,"3396":2.2,"5291":1.5,"64971":0.6,"151171":2.7,"16678941":2.0},
{"t":500,"3396":1.6,"5291":1.6,"64971":0.55,"151171":0.35,"16678941":0.5},
{"t":1500,"3396":1.2,"5291":1.8,"64971":0.3,"151171":0.7,"16678941":1.8},
{"t":2500,"3396":1.5,"5291":0.9,"64971":0.6,"151171":0.8,"16678941":2.3},
{"t":3500,"3396":1.3,"5291":1.3,"64971":0.45,"151171":0.65,"16678941":1.8},
{"t":4500,"3396":2.6,"5291":1.7,"64971":0.7,"151171":0.9,"16678941":2.1},
{"t":5500,"3396":2.4,"5291":2.6,"64971":0.5,"151171":0.55,"16678941":1.5},
{"t":6500,"3396":2.5,"5291":2.0,"64971":0.65,"151171":0.6,"16678941":1.9},
{"t":7500,"3396":1.7,"5291":2.4,"64971":0.45,"151171":0.3,"16678941":1.7},
{"t":8500,"3396":1.8,"5291":2.0,"64971":0.7,"151171":0.5,"16678941":2.0},
{"t":9500,"3396":1.4,"5291":2.4,"64971":0.5,"151171":0.8,"16678941":1.7},
{"t":10500,"3396":1.7,"5291":2.0,"64971":0.7,"151171":1.0,"16678941":2.2},
{"t":11500,"3396":1.3,"5291":2.4,"64971":0.5,"151171":0.85,"16678941":1.8},
{"t":12500,"3396":1.7,"5291":1.8,"64971":0.72,"151171":1.1,"16678941":2.2},
{"t":13500,"3396":1.2,"5291":2.2,"64971":0.48,"151171":0.9,"16678941":1.8},
{"t":14500,"3396":1.8,"5291":1.9,"64971":0.75,"151171":0.95,"16678941":2.2},
{"t":15500,"3396":1.4,"5291":2.3,"64971":0.52,"151171":0.75,"16678941":1.6},
{"t":16500,"3396":1.6,"5291":1.8,"64971":0.7,"151171":0.6,"16678941":2.0},
{"t":17500,"3396":1.1,"5291":2.2,"64971":0.5,"151171":0.5,"16678941":1.6},
{"t":18500,"3396":1.5,"5291":1.9,"64971":0.68,"151171":0.65,"16678941":2.0},
{"t":19500,"3396":1.2,"5291":2.5,"64971":0.45,"151171":0.45,"16678941":1.6},
{"t":20500,"3396":1.6,"5291":2.0,"64971":0.72,"151171":0.8,"16678941":1.9},
{"t":21500,"3396":1.2,"5291":2.3,"64971":0.5,"151171":0.7,"16678941":1.5},
{"t":22500,"3396":1.7,"5291":1.7,"64971":0.7,"151171":0.9,"16678941":2.0},
{"t":23500,"3396":1.2,"5291":2.0,"64971":0.48,"151171":0.65,"16678941":1.5},
{"t":24500,"3396":1.6,"5291":1.8,"64971":0.75,"151171":0.85,"16678941":1.8},
{"t":25500,"3396":1.3,"5291":2.2,"64971":0.5,"151171":0.7,"16678941":1.1},
{"t":26500,"3396":1.7,"5291":1.7,"64971":0.7,"151171":0.85,"16678941":1.9},
{"t":27500,"3396":1.2,"5291":2.2,"64971":0.45,"151171":0.6,"16678941":1.5},
{"t":28500,"3396":1.6,"5291":1.9,"64971":0.72,"151171":0.8,"16678941":1.9},
{"t":29500,"3396":1.4,"5291":2.4,"64971":0.5,"151171":0.6,"16678941":1.4},
{"t":30500,"3396":1.5,"5291":2.0,"64971":0.8,"151171":0.85,"16678941":1.9},
{"t":31500,"3396":1.2,"5291":2.4,"64971":0.48,"151171":0.8,"16678941":1.6},
{"t":32500,"3396":1.7,"5291":1.9,"64971":0.7,"151171":1.15,"16678941":2.1},
{"t":33500,"3396":1.6,"5291":2.5,"64971":0.5,"151171":1.3,"16678941":1.6},
{"t":34500,"3396":1.7,"5291":1.7,"64971":0.68,"151171":1.5,"16678941":1.9},
{"t":35500,"3396":1.2,"5291":1.9,"64971":0.45,"151171":1.7,"16678941":1.4},
{"t":36500,"3396":1.5,"5291":1.5,"64971":0.72,"151171":2.4,"16678941":1.8},
{"t":37500,"3396":1.0,"5291":2.0,"64971":0.5,"151171":2.65,"16678941":1.5},
{"t":38500,"3396":1.4,"5291":1.6,"64971":0.7,"151171":2.7,"16678941":2.0},
{"t":39500,"3396":1.0,"5291":2.1,"64971":0.48,"151171":2.6,"16678941":1.5},
{"t":40500,"3396":1.4,"5291":1.7,"64971":0.75,"151171":2.75,"16678941":2.0},
{"t":41500,"3396":0.9,"5291":2.1,"64971":0.5,"151171":2.6,"16678941":1.6},
{"t":42500,"3396":1.4,"5291":1.6,"64971":0.7,"151171":2.8,"16678941":2.1},
{"t":43500,"3396":1.1,"5291":2.0,"64971":0.45,"151171":2.65,"16678941":1.7},
{"t":44500,"3396":1.7,"5291":1.8,"64971":0.8,"151171":2.85,"16678941":2.1},
{"t":45500,"3396":2.0,"5291":2.2,"64971":0.4,"151171":2.7,"16678941":1.6},
{"t":46500,"3396":2.8,"5291":1.8,"64971":0.7,"151171":2.9,"16678941":2.0},
{"t":47500,"3396":2.3,"5291":2.2,"64971":0.5,"151171":2.7,"16678941":1.7},
{"t":48500,"3396":2.6,"5291":1.8,"64971":0.72,"151171":2.85,"16678941":2.2},
{"t":49500,"3396":2.2,"5291":2.3,"64971":0.45,"151171":2.65,"16678941":1.8},
{"t":50500,"3396":2.7,"5291":1.8,"64971":0.75,"151171":2.9,"16678941":2.1},
{"t":51500,"3396":2.1,"5291":2.1,"64971":0.5,"151171":2.7,"16678941":1.7},
{"t":52500,"3396":2.6,"5291":1.5,"64971":0.68,"151171":2.85,"16678941":2.2},
{"t":53500,"3396":2.2,"5291":1.9,"64971":0.48,"151171":2.65,"16678941":1.8},
{"t":54500,"3396":2.8,"5291":1.7,"64971":0.72,"151171":2.9,"16678941":2.2},
{"t":55500,"3396":2.3,"5291":1.8,"64971":0.5,"151171":2.7,"16678941":1.5},
{"t":56500,"3396":2.6,"5291":1.1,"64971":0.7,"151171":2.95,"16678941":1.6},
{"t":57500,"3396":2.1,"5291":1.6,"64971":0.35,"151171":2.7,"16678941":1.7},
{"t":58500,"3396":2.5,"5291":1.4,"64971":0.75,"151171":2.85,"16678941":2.4},
{"t":59500,"3396":2.2,"5291":2.1,"64971":0.5,"151171":2.65,"16678941":1.7},
{"t":60500,"3396":2.6,"5291":2.0,"64971":0.8,"151171":2.9,"16678941":1.6},
{"t":61500,"3396":2.1,"5291":2.4,"64971":0.45,"151171":2.7,"16678941":1.2},
{"t":62500,"3396":2.5,"5291":1.8,"64971":0.7,"151171":2.95,"16678941":1.7},
{"t":63500,"3396":2.1,"5291":2.4,"64971":0.5,"151171":2.7,"16678941":1.2},
{"t":64500,"3396":2.6,"5291":2.0,"64971":0.72,"151171":2.85,"16678941":1.5},
{"t":65500,"3396":2.1,"5291":2.4,"64971":0.48,"151171":2.65,"16678941":1.0},
{"t":66500,"3396":2.5,"5291":1.9,"64971":0.7,"151171":2.9,"16678941":1.2},
{"t":67500,"3396":2.0,"5291":1.9,"64971":0.5,"151171":2.7,"16678941":1.0},
{"t":68500,"3396":2.4,"5291":1.4,"64971":0.75,"151171":2.95,"16678941":1.9},
{"t":69500,"3396":2.1,"5291":1.9,"64971":0.45,"151171":2.75,"16678941":1.6},
{"t":70500,"3396":2.6,"5291":1.6,"64971":0.7,"151171":3.0,"16678941":2.0},
{"t":71500,"3396":2.4,"5291":2.1,"64971":0.5,"151171":2.8,"16678941":1.6},
{"t":72500,"3396":2.5,"5291":1.6,"64971":0.72,"151171":2.7,"16678941":2.2},
{"t":73500,"3396":2.2,"5291":2.0,"64971":0.48,"151171":2.9,"16678941":1.8},
{"t":74500,"3396":2.6,"5291":1.7,"64971":0.75,"151171":2.65,"16678941":2.1},
{"t":75500,"3396":2.1,"5291":2.0,"64971":0.5,"151171":2.9,"16678941":1.5},
{"t":76500,"3396":2.5,"5291":1.6,"64971":0.7,"151171":2.7,"16678941":1.9},
{"t":77500,"3396":2.0,"5291":2.1,"64971":0.45,"151171":2.95,"16678941":1.7},
{"t":78500,"3396":2.4,"5291":1.7,"64971":0.72,"151171":2.7,"16678941":2.1},
{"t":79500,"3396":2.1,"5291":2.1,"64971":0.5,"151171":2.85,"16678941":1.6},
{"t":80500,"3396":2.3,"5291":1.7,"64971":0.75,"151171":2.65,"16678941":2.0},
{"t":81500,"3396":2.1,"5291":2.1,"64971":0.48,"151171":2.9,"16678941":1.7},
{"t":82500,"3396":2.2,"5291":1.6,"64971":0.7,"151171":2.7,"16678941":2.2},
{"t":83500,"3396":1.9,"5291":1.9,"64971":0.5,"151171":2.95,"16678941":1.7},
{"t":84500,"3396":2.4,"5291":1.6,"64971":0.68,"151171":2.7,"16678941":2.1},
{"t":85500,"3396":1.9,"5291":2.1,"64971":0.45,"151171":2.9,"16678941":1.7},
{"t":86500,"3396":2.2,"5291":1.8,"64971":0.72,"151171":2.65,"16678941":2.1},
{"t":87500,"3396":1.9,"5291":2.0,"64971":0.5,"151171":2.85,"16678941":1.7},
{"t":88500,"3396":2.0,"5291":1.7,"64971":0.7,"151171":2.7,"16678941":2.1},
{"t":89500,"3396":1.8,"5291":2.2,"64971":0.48,"151171":2.95,"16678941":1.7},
{"t":90500,"3396":2.3,"5291":1.7,"64971":0.75,"151171":2.7,"16678941":2.2},
{"t":91500,"3396":1.8,"5291":2.1,"64971":0.5,"151171":2.9,"16678941":1.9},
{"t":92500,"3396":2.2,"5291":1.6,"64971":0.7,"151171":2.65,"16678941":2.4},
{"t":93500,"3396":1.8,"5291":2.1,"64971":0.45,"151171":2.85,"16678941":1.9},
{"t":94500,"3396":2.4,"5291":1.8,"64971":0.72,"151171":2.75,"16678941":2.3},
{"t":95500,"3396":2.0,"5291":2.2,"64971":0.5,"151171":3.0,"16678941":1.8},
{"t":96500,"3396":2.4,"5291":1.7,"64971":0.8,"151171":2.7,"16678941":2.3},
{"t":97500,"3396":1.9,"5291":2.1,"64971":0.48,"151171":2.9,"16678941":1.9},
{"t":98500,"3396":2.3,"5291":1.4,"64971":0.7,"151171":2.7,"16678941":2.4},
{"t":99500,"3396":2.1,"5291":1.8,"64971":0.55,"151171":2.8,"16678941":1.8}
],
"hbY": [
{"f":0,"f2":14,"v":2},{"f":15.5,"f2":44,"v":2},{"f":45.5,"f2":95,"v":2},{"f":96.5,"f2":190,"v":2},{"f":191.5,"f2":196,"v":2},{"f":199,"f2":212,"v":2},{"f":215,"f2":240,"v":2},{"f":241.5,"f2":300,"v":2},{"f":301.5,"f2":362,"v":2},{"f":404,"f2":470,"v":2},{"f":471.5,"f2":560,"v":2},{"f":561.5,"f2":598,"v":2},{"f":603,"f2":612,"v":2},{"f":620,"f2":690,"v":2},{"f":691.5,"f2":760,"v":2},{"f":762,"f2":776,"v":2},{"f":790,"f2":850,"v":2},{"f":851.5,"f2":905,"v":2},{"f":907,"f2":960,"v":2},{"f":961.5,"f2":1000,"v":2},
{"f":107,"f2":115,"v":3},{"f":117,"f2":126,"v":3},{"f":128,"f2":138,"v":3},{"f":140,"f2":146,"v":3},{"f":148,"f2":160,"v":3},{"f":162,"f2":172,"v":3},{"f":174,"f2":181,"v":3},{"f":183,"f2":190,"v":3},{"f":378,"f2":386,"v":3},{"f":389,"f2":396,"v":3},{"f":398,"f2":402,"v":3}
],
"hbYs": [
{"f":18,"v":3},{"f":26,"v":3},{"f":39,"v":3},{"f":47,"v":3},{"f":53,"v":3},{"f":61,"v":3},{"f":68,"v":3},{"f":80,"v":3},{"f":88,"v":3},{"f":93,"v":3},{"f":240,"v":3},{"f":258,"v":3},{"f":263,"v":3},{"f":276,"v":3},{"f":281,"v":3},{"f":298,"v":3},{"f":311,"v":3},{"f":321,"v":3},{"f":331,"v":3},{"f":345,"v":3},{"f":405,"v":3},{"f":413,"v":3},{"f":428,"v":3},{"f":440,"v":3},{"f":450,"v":3},{"f":461,"v":3},{"f":468,"v":3},{"f":485,"v":3},{"f":496,"v":3},{"f":504,"v":3},{"f":512,"v":3},{"f":518,"v":3},{"f":524,"v":3},{"f":532,"v":3},{"f":539,"v":3},{"f":549,"v":3},{"f":554,"v":3},{"f":559,"v":3},{"f":567,"v":3},{"f":572,"v":3},{"f":578,"v":3},{"f":590,"v":3},{"f":596,"v":3},{"f":602,"v":3},{"f":613,"v":3},{"f":623,"v":3},{"f":629,"v":3},{"f":637,"v":3},{"f":644,"v":3},{"f":652,"v":3},{"f":660,"v":3},{"f":668,"v":3},{"f":679,"v":3},{"f":686,"v":3},{"f":691,"v":3},{"f":698,"v":3},{"f":707,"v":3},{"f":718,"v":3},{"f":730,"v":3},{"f":738,"v":3},{"f":749,"v":3},{"f":757,"v":3},{"f":777,"v":3},{"f":784,"v":3},{"f":795,"v":3},{"f":802,"v":3},{"f":812,"v":3},{"f":819,"v":3},{"f":827,"v":3},{"f":834,"v":3},{"f":839,"v":3},{"f":846,"v":3},{"f":851,"v":3},{"f":858,"v":3},{"f":866,"v":3},{"f":874,"v":3},{"f":880,"v":3},{"f":886,"v":3},{"f":892,"v":3},{"f":897,"v":3},{"f":905,"v":3},{"f":913,"v":3},{"f":919,"v":3},{"f":924,"v":3},{"f":928,"v":3},{"f":936,"v":3},{"f":944,"v":3},{"f":952,"v":3},{"f":959,"v":3},{"f":967,"v":3},{"f":975,"v":3},{"f":983,"v":3},{"f":986,"v":3},{"f":990,"v":3},{"f":994,"v":3},{"f":998,"v":3},
{"f":121,"v":4},{"f":390,"v":4},{"f":583,"v":5},
{"f":364,"v":1},{"f":368,"v":1},{"f":372,"v":1},{"f":376,"v":1},{"f":784,"v":1}
],
"hbB": [
{"f":11,"v":1},{"f":13,"v":1},{"f":15,"v":1},{"f":20,"v":1},{"f":26,"v":1},{"f":30,"v":1},{"f":33,"v":1},{"f":35,"v":1},{"f":37,"v":1},{"f":40,"v":1},{"f":43,"v":1},{"f":45,"v":1},{"f":47,"v":1},{"f":50,"v":1},{"f":52,"v":1},{"f":55,"v":1},{"f":57,"v":1},{"f":62,"v":1},{"f":65,"v":1},{"f":70,"v":1},{"f":75,"v":1},{"f":82,"v":1},{"f":85,"v":1},{"f":88,"v":1},{"f":93,"v":1},{"f":96,"v":1},{"f":104,"v":1},{"f":110,"v":1},{"f":112,"v":1},{"f":114,"v":1},{"f":123,"v":1},{"f":125,"v":1},{"f":127,"v":1},{"f":129,"v":1},{"f":131,"v":1},{"f":133,"v":1},{"f":135,"v":1},{"f":137,"v":1},{"f":139,"v":1},{"f":142,"v":1},{"f":146,"v":1},{"f":150,"v":1},{"f":152,"v":1},{"f":155,"v":1},{"f":160,"v":1},{"f":165,"v":1},{"f":168,"v":1},{"f":172,"v":1},{"f":178,"v":1},{"f":182,"v":1},{"f":185,"v":1},{"f":188,"v":1},{"f":210,"v":1},{"f":215,"v":1},{"f":220,"v":1},{"f":225,"v":1},{"f":230,"v":1},{"f":233,"v":1},{"f":238,"v":1},{"f":245,"v":1},{"f":250,"v":1},{"f":256,"v":1},{"f":260,"v":1},{"f":264,"v":1},{"f":268,"v":1},{"f":275,"v":1},{"f":280,"v":1},{"f":290,"v":1},{"f":295,"v":1},{"f":297,"v":1},{"f":299,"v":1},{"f":301,"v":1},{"f":303,"v":1},{"f":305,"v":1},{"f":308,"v":1},{"f":312,"v":1},{"f":315,"v":1},{"f":318,"v":1},{"f":325,"v":1},{"f":333,"v":1},{"f":335,"v":1},{"f":340,"v":1},{"f":345,"v":1},{"f":352,"v":1},{"f":356,"v":1},{"f":380,"v":1},{"f":412,"v":1},{"f":418,"v":1},{"f":425,"v":1},{"f":440,"v":1},{"f":445,"v":1},{"f":450,"v":1},{"f":455,"v":1},{"f":465,"v":1},{"f":470,"v":1},{"f":478,"v":1},{"f":482,"v":1},{"f":489,"v":1},{"f":495,"v":1},{"f":500,"v":1},{"f":505,"v":1},{"f":509,"v":1},{"f":515,"v":1},{"f":522,"v":1},{"f":526,"v":1},{"f":530,"v":1},{"f":535,"v":1},{"f":540,"v":1},{"f":545,"v":1},{"f":548,"v":1},{"f":552,"v":1},{"f":556,"v":1},{"f":566,"v":1},{"f":570,"v":1},{"f":573,"v":1},{"f":578,"v":1},{"f":580,"v":1},{"f":582,"v":1},{"f":584,"v":1},{"f":587,"v":1},{"f":589,"v":1},{"f":592,"v":1},{"f":594,"v":1},{"f":600,"v":1},{"f":605,"v":1},{"f":610,"v":1},{"f":614,"v":1},{"f":617,"v":1},{"f":640,"v":1},{"f":643,"v":1},{"f":646,"v":1},{"f":650,"v":1},{"f":653,"v":1},{"f":660,"v":1},{"f":666,"v":1},{"f":670,"v":1},{"f":674,"v":1},{"f":678,"v":1},{"f":684,"v":1},{"f":688,"v":1},{"f":692,"v":1},{"f":695,"v":1},{"f":704,"v":1},{"f":709,"v":1},{"f":713,"v":1},{"f":722,"v":1},{"f":726,"v":1},{"f":728,"v":1},{"f":732,"v":1},{"f":746,"v":1},{"f":749,"v":1},{"f":753,"v":1},{"f":757,"v":1},{"f":760,"v":1},{"f":774,"v":1},{"f":820,"v":1},{"f":825,"v":1},{"f":831,"v":1},{"f":838,"v":1},{"f":844,"v":1},{"f":860,"v":1},{"f":872,"v":1},{"f":878,"v":1},{"f":897,"v":1},{"f":905,"v":1},{"f":912,"v":1},{"f":922,"v":1},{"f":930,"v":1},{"f":938,"v":1},{"f":945,"v":1},{"f":952,"v":1},{"f":958,"v":1},{"f":965,"v":1},{"f":980,"v":1},{"f":983,"v":1},{"f":985,"v":1},{"f":990,"v":1},{"f":994,"v":1},{"f":998,"v":1},
{"f":200,"v":2},{"f":202,"v":2},{"f":204,"v":2},{"f":206,"v":2},{"f":626,"v":2},{"f":628,"v":2},{"f":630,"v":2},{"f":632,"v":2},{"f":634,"v":2},{"f":636,"v":2},{"f":700,"v":2},{"f":718,"v":2},{"f":762,"v":2},
{"f":100,"v":3},{"f":656,"v":3},{"f":741,"v":3}
],
"hbR": [
{"f":10,"v":3},{"f":598,"v":2},{"f":386,"v":1},{"f":388,"v":1},{"f":392,"v":1},{"f":410,"v":1},{"f":430,"v":1},{"f":455,"v":1},{"f":468,"v":1},{"f":472,"v":1},{"f":485,"v":1},{"f":560,"v":1},{"f":590,"v":1},{"f":610,"v":1},{"f":720,"v":1},{"f":776,"v":1},{"f":848,"v":1},{"f":852,"v":1},{"f":856,"v":1},{"f":862,"v":1},{"f":866,"v":1},{"f":886,"v":1},{"f":890,"v":1},{"f":894,"v":1},{"f":900,"v":1},{"f":906,"v":1},{"f":918,"v":1},{"f":940,"v":1},{"f":962,"v":1},{"f":968,"v":1},{"f":973,"v":1},{"f":978,"v":1},{"f":988,"v":1},{"f":992,"v":1},{"f":996,"v":1}
],
"hbG": [
{"f":118,"v":4},{"f":67,"v":2},{"f":124,"v":2},{"f":145,"v":2},{"f":396,"v":2},{"f":25,"v":1},{"f":60,"v":1},{"f":95,"v":1},{"f":180,"v":1},{"f":285,"v":1},{"f":330,"v":1},{"f":349,"v":1},{"f":395,"v":1},{"f":405,"v":1},{"f":420,"v":1},{"f":460,"v":1},{"f":494,"v":1},{"f":520,"v":1},{"f":560,"v":1},{"f":575,"v":1},{"f":596,"v":1},{"f":614,"v":1},{"f":680,"v":1},{"f":735,"v":1},{"f":770,"v":1},{"f":780,"v":1},{"f":782,"v":1},{"f":786,"v":1},{"f":788,"v":1},{"f":790,"v":1},{"f":792,"v":1},{"f":794,"v":1},{"f":796,"v":1},{"f":798,"v":1},{"f":800,"v":1},{"f":804,"v":1},{"f":808,"v":1},{"f":815,"v":1},{"f":870,"v":1},{"f":925,"v":1},{"f":935,"v":1},{"f":948,"v":1}
],
"hbK": [
{"f":175,"v":2},{"f":950,"v":2},{"f":975,"v":2},{"f":632,"v":1},{"f":700,"v":1},{"f":883,"v":1}
]
},
"resolve": {"scale": {"color": "independent"}},
"spacing": 19,
"vconcat": [
{
"spacing": 25,
"resolve": {"scale": {"color": "independent"}},
"hconcat": [
{
"title": {"text": "(A)", "anchor": "start", "fontSize": 23, "dx": -7, "offset": -7},
"resolve": {"scale": {"color": "independent"}},
"vconcat": [{
"title": {"text": "Backbone RMSD", "fontSize": 18.5, "dx": -36, "offset": -1},
"width": 479, "height": 219,
"data": {"name": "rmsdA"},
"transform": [{"fold": ["3396", "5291", "64971", "151171", "16678941"], "as": ["lig", "val"]}],
"mark": {"type": "line", "strokeWidth": 1.5, "clip": true},
"encoding": {
"x": {"field": "t", "type": "quantitative", "scale": {"domain": [0, 200000], "nice": false}, "axis": {"values": [0, 50000, 100000, 150000, 200000], "labelExpr": "datum.value == 0 ? '0' : datum.value == 50000 ? '50000' : datum.value == 100000 ? '1e+05' : datum.value == 150000 ? '1.5e+05' : '2e+05'", "title": "Time (ps)"}},
"y": {"field": "val", "type": "quantitative", "scale": {"domain": [0, 20], "nice": false}, "axis": {"values": [0, 5, 10, 15, 20], "title": "RMSD (Å)", "titlePadding": 11}},
"color": {"field": "lig", "type": "nominal", "scale": {"domain": ["3396", "5291", "64971", "151171", "16678941"], "range": ["#111111", "#e42a22", "#5cb531", "#3f3d98", "#f7a128"]},
 "legend": {"orient": "none", "legendX": 321, "legendY": 3, "title": null, "symbolType": "stroke", "symbolStrokeWidth": 3, "symbolSize": 250, "labelFontSize": 12, "labelColor": "#222222", "rowPadding": 2.5, "labelOffset": 2, "labelExpr": "'DdRp+' + datum.label"}}
}
}]
},
{
"title": {"text": "(B)", "anchor": "start", "fontSize": 23, "dx": -4, "offset": -7},
"resolve": {"scale": {"color": "independent"}},
"vconcat": [{
"title": {"text": "C-Alpha RMS fluctuation", "fontSize": 18.5, "offset": -1},
"width": 481, "height": 220,
"data": {"name": "rmsf"},
"transform": [{"fold": ["3396", "5291", "64971", "151171", "16678941"], "as": ["lig", "val"]}],
"mark": {"type": "line", "strokeWidth": 1.6, "clip": true},
"encoding": {
"x": {"field": "r", "type": "quantitative", "scale": {"domain": [0, 1290], "nice": false}, "axis": {"values": [0, 200, 400, 600, 800, 1000, 1200], "format": "d", "title": "Amino Acids"}},
"y": {"field": "val", "type": "quantitative", "scale": {"domain": [0, 10], "nice": false}, "axis": {"values": [0, 2, 4, 6, 8, 10], "title": "RMSF(Å)"}},
"color": {"field": "lig", "type": "nominal", "scale": {"domain": ["3396", "5291", "64971", "151171", "16678941"], "range": ["#111111", "#e42a22", "#5cb531", "#3f3d98", "#f7a128"]}, "legend": null}
}
}]
}
]
},
{
"spacing": 18.5,
"resolve": {"scale": {"color": "independent"}},
"hconcat": [
{
"title": {"text": "(C)", "anchor": "start", "fontSize": 23, "dx": -17.5, "offset": -7},
"resolve": {"scale": {"color": "independent"}},
"vconcat": [{
"title": {"text": "Ligand RMSD", "fontSize": 18.5, "offset": -3},
"width": 480, "height": 217,
"data": {"name": "rmsdC"},
"transform": [{"fold": ["3396", "5291", "64971", "151171", "16678941"], "as": ["lig", "val"]}],
"mark": {"type": "line", "strokeWidth": 1.5, "clip": true},
"encoding": {
"x": {"field": "t", "type": "quantitative", "scale": {"domain": [0, 100000], "nice": false}, "axis": {"values": [0, 20000, 40000, 60000, 80000, 100000], "labelExpr": "datum.value == 100000 ? '1e+05' : format(datum.value, 'd')", "title": "Time (ps)"}},
"y": {"field": "val", "type": "quantitative", "scale": {"domain": [0, 6], "nice": false}, "axis": {"values": [0, 2, 4, 6], "title": "RMSD (Å)", "labelPadding": 10}},
"color": {"field": "lig", "type": "nominal", "scale": {"domain": ["3396", "5291", "64971", "151171", "16678941"], "range": ["#111111", "#e42a22", "#5cb531", "#3f3d98", "#f7a128"]},
 "legend": {"orient": "none", "legendX": 364, "legendY": 11, "title": null, "symbolType": "stroke", "symbolStrokeWidth": 3, "symbolSize": 250, "labelFontSize": 12, "labelColor": "#222222", "rowPadding": 2.5, "labelOffset": 2}}
}
}]
},
{
"title": {"text": "(D)", "anchor": "start", "fontSize": 23, "dx": -11, "offset": -7},
"resolve": {"scale": {"color": "independent"}},
"vconcat": [{
"title": {"text": "Hydrogen Bonds", "fontSize": 18.5, "dx": -7, "offset": -3},
"width": 473, "height": 215,
"encoding": {
"x": {"field": "f", "type": "quantitative", "scale": {"domain": [0, 1000], "nice": false}, "axis": {"values": [0, 200, 400, 600, 800, 1000], "format": "d", "title": "No. of Frames", "labelFontSize": 16.5}},
"y": {"field": "v", "type": "quantitative", "scale": {"domain": [0, 5], "nice": false}, "axis": {"values": [0, 1, 2, 3, 4, 5], "title": "Hydrogen Bonds", "labelPadding": 10, "titlePadding": 7}},
"y2": {"datum": 0}
},
"layer": [
{"data": {"name": "hbY"}, "mark": {"type": "rect", "color": "#f4ec1c"}, "encoding": {"x2": {"field": "f2"}}},
{"data": {"name": "hbYs"}, "mark": {"type": "rule", "color": "#f4ec1c", "strokeWidth": 1.3}},
{"data": {"name": "hbB"}, "mark": {"type": "rule", "color": "#3f3d98", "strokeWidth": 1.5}},
{"data": {"name": "hbR"}, "mark": {"type": "rule", "color": "#e42a22", "strokeWidth": 1.5}},
{"data": {"name": "hbG"}, "mark": {"type": "rule", "color": "#5cb531", "strokeWidth": 1.5}},
{"data": {"name": "hbK"}, "mark": {"type": "rule", "color": "#111111", "strokeWidth": 1.5}}
]
}]
}
]
}
]
}
